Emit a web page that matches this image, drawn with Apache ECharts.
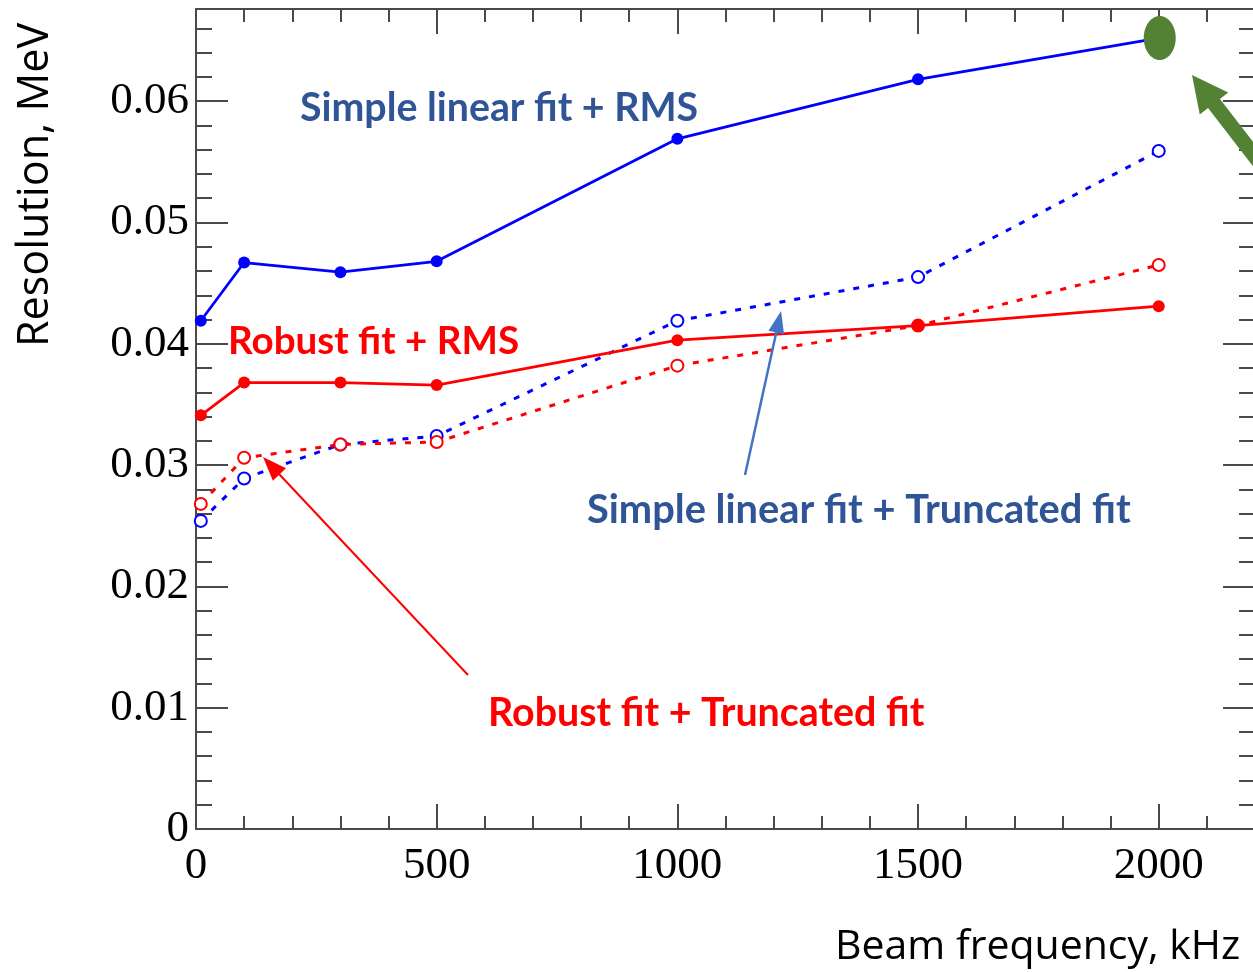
<!DOCTYPE html>
<html>
<head>
    <meta charset="UTF-8">
    <script src="https://cdn.jsdelivr.net/npm/echarts@6/dist/echarts.min.js"></script>
    <style>
        html, body { margin: 0; padding: 0; background: #fff; }
        #resChart { width: 1253px; height: 972px; }
    </style>
</head>
<body>
    <div id="resChart"></div>
    <script type="text/javascript">
        // beam frequency, kHz
        var freq = [10, 100, 300, 500, 1000, 1500, 2000];
        // resolution, MeV
        var simpleRms   = [0.0419, 0.0467, 0.0459, 0.0468, 0.0569, 0.0618, 0.0652];
        var robustRms   = [0.0341, 0.0368, 0.0368, 0.0366, 0.0403, 0.0415, 0.0431];
        var simpleTrunc = [0.0254, 0.0289, 0.0317, 0.0324, 0.0419, 0.0455, 0.0559];
        var robustTrunc = [0.0268, 0.0306, 0.0317, 0.0319, 0.0382, 0.0415, 0.0465];

        var xTickLabels = ['0', '500', '1000', '1500', '2000'];
        var yTickLabels = ['0', '0.01', '0.02', '0.03', '0.04', '0.05', '0.06'];

        function pairs(ys) {
            var out = [];
            for (var i = 0; i < freq.length; i++) out.push([freq[i], ys[i]]);
            return out;
        }

        var axisCol = '#4a4a4a';
        var serif = 'Liberation Serif';

        function xAx(pos, interval, len, labels, line) {
            return {
                type: 'value', position: pos, min: 0, max: 2200, interval: interval,
                axisLine: { show: line, onZero: false, lineStyle: { color: axisCol, width: 2 } },
                axisTick: { show: true, inside: true, length: len, lineStyle: { color: axisCol, width: 2 } },
                axisLabel: {
                    show: labels, margin: 15, fontFamily: serif, fontSize: 45, color: '#000',
                    formatter: function (v) {
                        var s = String(Math.round(v));
                        return xTickLabels.indexOf(s) >= 0 ? s : '';
                    }
                },
                splitLine: { show: false }
            };
        }
        function yAx(pos, interval, len, labels, line) {
            return {
                type: 'value', position: pos, min: 0, max: 0.0676, interval: interval,
                axisLine: { show: line, onZero: false, lineStyle: { color: axisCol, width: 2 } },
                axisTick: { show: true, inside: true, length: len, lineStyle: { color: axisCol, width: 2 } },
                axisLabel: {
                    show: labels, margin: 7, fontFamily: serif, fontSize: 45, color: '#000',
                    formatter: function (v) {
                        var s = v === 0 ? '0' : (Math.round(v * 100) / 100).toFixed(2);
                        return (Math.abs(v * 100 - Math.round(v * 100)) < 1e-6 && yTickLabels.indexOf(s) >= 0) ? s : '';
                    }
                },
                splitLine: { show: false }
            };
        }

        var myChart = echarts.init(document.getElementById('resChart'));
        var option = {
            animation: false,
            backgroundColor: '#fff',
            grid: { left: 196, top: 9, width: 1059, height: 820, outerBoundsMode: 'none' },
            xAxis: [
                xAx('bottom', 500, 25, true, true),
                xAx('bottom', 100, 13, false, false),
                xAx('top', 500, 25, false, true),
                xAx('top', 100, 13, false, false)
            ],
            yAxis: [
                yAx('left', 0.01, 32, true, true),
                yAx('left', 0.002, 16, false, false),
                yAx('right', 0.01, 32, false, true),
                yAx('right', 0.002, 16, false, false)
            ],
            series: [
                {
                    name: 'Simple linear fit + RMS', type: 'line', data: pairs(simpleRms),
                    symbol: 'circle', symbolSize: 12, z: 5,
                    lineStyle: { color: '#0000ff', width: 2.8 }, itemStyle: { color: '#0000ff' }
                },
                {
                    name: 'Robust fit + RMS', type: 'line', data: pairs(robustRms),
                    symbol: 'circle', symbolSize: 12, z: 5,
                    lineStyle: { color: '#ff0000', width: 2.8 }, itemStyle: { color: '#ff0000' }
                },
                {
                    name: 'Simple linear fit + Truncated fit', type: 'line', data: pairs(simpleTrunc),
                    symbol: 'emptyCircle', symbolSize: 12, z: 4,
                    lineStyle: { color: '#0000ff', width: 3, type: [6, 9] },
                    itemStyle: { color: '#0000ff', borderWidth: 1.8 }
                },
                {
                    name: 'Robust fit + Truncated fit', type: 'line', data: pairs(robustTrunc),
                    symbol: 'emptyCircle', symbolSize: 12, z: 4,
                    lineStyle: { color: '#ff0000', width: 3, type: [6, 9] },
                    itemStyle: { color: '#ff0000', borderWidth: 1.8 }
                }
            ]
        };
        myChart.setOption(option);

        // font size so that a text fills a given width
        var ctx = document.createElement('canvas').getContext('2d');
        function fitSize(text, family, weight, width) {
            ctx.font = weight + ' 100px "' + family + '"';
            return Math.round(100 * width / ctx.measureText(text).width * 10) / 10;
        }

        function label(text, x, y, color, width) {
            return {
                type: 'text', x: x, y: y, z: 50,
                style: {
                    text: text, fill: color, fontFamily: 'Lato', fontWeight: 'bold',
                    fontSize: fitSize(text, 'Lato', 'bold', width),
                    align: 'left', verticalAlign: 'middle'
                }
            };
        }

        function arrow(x1, y1, x2, y2, color, w, hl, hw) {
            var dx = x2 - x1, dy = y2 - y1, L = Math.sqrt(dx * dx + dy * dy);
            var ux = dx / L, uy = dy / L, nx = -uy, ny = ux;
            var bx = x2 - ux * hl, by = y2 - uy * hl;
            return [
                { type: 'line', z: 50, shape: { x1: x1, y1: y1, x2: bx + ux * 2, y2: by + uy * 2 },
                  style: { stroke: color, lineWidth: w } },
                { type: 'polygon', z: 50,
                  shape: { points: [[x2, y2], [bx + nx * hw, by + ny * hw], [bx - nx * hw, by - ny * hw]] },
                  style: { fill: color } }
            ];
        }

        function fatArrow(tx, ty, fx, fy, color, hl, hw, sw) {
            var dx = fx - tx, dy = fy - ty, L = Math.sqrt(dx * dx + dy * dy);
            var ux = dx / L, uy = dy / L, nx = -uy, ny = ux;
            var bx = tx + ux * hl, by = ty + uy * hl;
            return {
                type: 'polygon', z: 50,
                shape: { points: [
                    [tx, ty],
                    [bx + nx * hw, by + ny * hw], [bx + nx * sw, by + ny * sw],
                    [fx + nx * sw, fy + ny * sw], [fx - nx * sw, fy - ny * sw],
                    [bx - nx * sw, by - ny * sw], [bx - nx * hw, by - ny * hw]
                ] },
                style: { fill: color }
            };
        }

        var last = myChart.convertToPixel({ xAxisIndex: 0, yAxisIndex: 0 }, [freq[6], simpleRms[6]]);
        var yTitle = 'Resolution, MeV', xTitle = 'Beam frequency, kHz';

        var graphics = [
            {
                type: 'text', x: 36, y: 185, rotation: Math.PI / 2, z: 50,
                style: {
                    text: yTitle, fill: '#000', fontFamily: 'Open Sans',
                    fontSize: fitSize(yTitle, 'Open Sans', 'normal', 324),
                    align: 'center', verticalAlign: 'middle'
                }
            },
            {
                type: 'text', x: 835, y: 947, z: 50,
                style: {
                    text: xTitle, fill: '#000', fontFamily: 'Open Sans',
                    fontSize: fitSize(xTitle, 'Open Sans', 'normal', 405),
                    align: 'left', verticalAlign: 'middle'
                }
            },
            label('Simple linear fit + RMS', 300, 108, '#2f5597', 398),
            label('Robust fit + RMS', 228, 342, '#ff0000', 291),
            label('Simple linear fit + Truncated fit', 587, 510, '#2f5597', 544),
            label('Robust fit + Truncated fit', 488, 713, '#ff0000', 436),
            {
                type: 'ellipse', z: 60,
                shape: { cx: last[0] + 1, cy: last[1], rx: 16, ry: 22 },
                style: { fill: '#548235' }
            },
            fatArrow(1192, 75, 1300, 215, '#548235', 36, 18, 7.5)
        ];
        graphics = graphics.concat(arrow(468, 675, 263, 457, '#ff0000', 2, 24, 9));
        graphics = graphics.concat(arrow(745, 475, 781, 311, '#4472c4', 2.5, 22, 8));

        myChart.setOption({ graphic: graphics });
    </script>
</body>
</html>
